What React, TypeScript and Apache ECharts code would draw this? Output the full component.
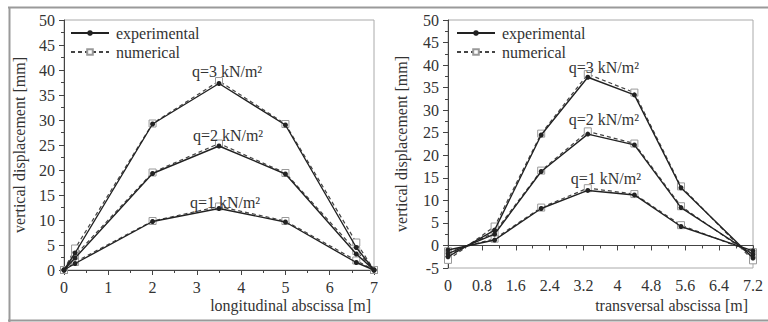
import React, { useEffect, useRef } from "react";
import * as echarts from "echarts";

// ---- data ----
const leftX = [0, 0.25, 2, 3.5, 5, 6.6, 7];
const leftExpQ1 = [0, 1.3, 9.7, 12.3, 9.6, 1.5, 0];
const leftNumQ1 = [0, 1.6, 9.8, 12.7, 9.8, 1.9, 0];
const leftExpQ2 = [0, 2.4, 19.3, 24.8, 19.2, 3.2, 0];
const leftNumQ2 = [0, 2.9, 19.5, 25.3, 19.4, 3.8, 0];
const leftExpQ3 = [0, 3.4, 29.2, 37.3, 29.0, 4.5, 0];
const leftNumQ3 = [0, 4.3, 29.3, 37.8, 29.2, 5.5, 0];

const rightX = [0, 1.1, 2.2, 3.3, 4.4, 5.5, 7.2];
const rightExpQ1 = [-1.0, 1.2, 8.2, 12.2, 11.2, 4.2, -1.2];
const rightNumQ1 = [-1.3, 1.5, 8.4, 12.7, 11.4, 4.5, -1.5];
const rightExpQ2 = [-1.8, 2.5, 16.4, 24.7, 22.3, 8.4, -2.0];
const rightNumQ2 = [-2.2, 2.9, 16.6, 25.3, 22.6, 8.7, -2.4];
const rightExpQ3 = [-2.5, 3.4, 24.5, 37.3, 33.4, 12.8, -2.8];
const rightNumQ3 = [-3.2, 4.2, 24.8, 38.0, 33.9, 13.1, -3.3];

const loadLabels = ["q=1 kN/m²", "q=2 kN/m²", "q=3 kN/m²"];
const xTitles = ["longitudinal abscissa [m]", "transversal abscissa [m]"];
const yTitle = "vertical displacement [mm]";
const leftPeakIndex = 3;
const rightPeakIndex = 3;

const FONT = "'Liberation Serif', 'Times New Roman', serif";
const TXT = "#333";

export default function App() {
  const ref = useRef<HTMLDivElement>(null);
  useEffect(() => {
    if (!ref.current) return;
    const chart = echarts.init(ref.current, undefined, { renderer: "svg" });

    const leftLabelOffsets = [[6, -6], [9, -11], [8, -12]];
    const rightLabelOffsets = [[18, -12], [16, -15], [16, -10]];

    const mk = (
      xs: number[],
      ys: number[],
      kind: "exp" | "num",
      gi: number,
      label?: string,
      peak?: number,
      offset?: number[]
    ) => {
      const data = xs.map((x, i) => {
        if (label && i === peak) {
          return {
            value: [x, ys[i]],
            label: {
              show: true,
              position: "inside",
              formatter: label,
              offset,
              fontFamily: FONT,
              fontSize: 16,
              color: TXT,
            },
          };
        }
        return [x, ys[i]];
      });
      if (kind === "exp") {
        return {
          type: "line",
          name: "experimental",
          xAxisIndex: gi,
          yAxisIndex: gi,
          data,
          symbol: "circle",
          symbolSize: 5,
          z: 3,
          lineStyle: { color: "#222", width: 1.4, type: "solid" },
          itemStyle: { color: "#222" },
        };
      }
      return {
        type: "line",
        name: "numerical",
        xAxisIndex: gi,
        yAxisIndex: gi,
        data,
        symbol: "rect",
        symbolSize: 7,
        z: 2,
        lineStyle: { color: "#444", width: 1.2, type: [4, 3] },
        itemStyle: { color: "#fff", borderColor: "#999", borderWidth: 1 },
      };
    };

    const axisLabel = { fontFamily: FONT, fontSize: 16, color: TXT, margin: 9 };
    const axisLine = { show: true, lineStyle: { color: "#444", width: 1 } };
    const axisTick = { show: true, inside: false, length: 5, lineStyle: { color: "#444" } };
    const minorTick = { show: true, splitNumber: 2, length: 3, lineStyle: { color: "#444" } };

    const xAxisBase = (max: number, interval: number) => ({
      type: "value",
      min: 0,
      max,
      interval,
      axisLine,
      axisTick,
      minorTick,
      splitLine: { show: false },
      axisLabel,
    });
    const yAxisBase = (min: number, gap: number) => ({
      type: "value",
      min,
      max: 50,
      interval: 5,
      axisLine,
      axisTick,
      minorTick,
      splitLine: { show: false },
      axisLabel,
      name: yTitle,
      nameLocation: "middle",
      nameRotate: 90,
      nameGap: gap,
      nameTextStyle: { fontFamily: FONT, fontSize: 16, color: TXT },
    });

    const legendBase = (left: number) => ({
      show: true,
      orient: "vertical",
      left,
      top: 25,
      padding: 0,
      itemWidth: 38,
      itemHeight: 7,
      itemGap: 3,
      data: ["experimental", "numerical"],
      textStyle: { fontFamily: FONT, fontSize: 16, color: TXT, padding: [0, 0, 0, 2] },
    });

    const frame = { stroke: "#9a9a9a", lineWidth: 2 };

    const gridBase = {
      show: true,
      borderColor: "#aaa",
      borderWidth: 1,
      backgroundColor: "transparent",
      containLabel: false,
      outerBoundsMode: "none",
    };

    const titleStyle = (text: string) => ({
      text,
      fill: TXT,
      font: `16px ${FONT}`,
      align: "right",
      verticalAlign: "middle",
    });

    chart.setOption({
      animation: false,
      backgroundColor: "#fff",
      textStyle: { fontFamily: FONT },
      grid: [
        { ...gridBase, left: 64, right: 394, top: 20, bottom: 52 },
        { ...gridBase, left: 448, right: 15, top: 20, bottom: 54 },
      ],
      xAxis: [
        { ...xAxisBase(7, 1), gridIndex: 0 },
        { ...xAxisBase(7.2, 0.8), gridIndex: 1 },
      ],
      yAxis: [
        { ...yAxisBase(0, 37), gridIndex: 0 },
        { ...yAxisBase(-5, 39), gridIndex: 1 },
      ],
      legend: [legendBase(70), legendBase(456)],
      graphic: [
        { type: "line", shape: { x1: 8, y1: 7.5, x2: 768, y2: 7.5 }, style: frame, silent: true },
        { type: "line", shape: { x1: 9.5, y1: 7, x2: 9.5, y2: 322 }, style: frame, silent: true },
        { type: "line", shape: { x1: 8, y1: 320.5, x2: 768, y2: 320.5 }, style: frame, silent: true },
        { type: "text", x: 371, y: 305, style: titleStyle(xTitles[0]), silent: true },
        { type: "text", x: 748, y: 305, style: titleStyle(xTitles[1]), silent: true },
      ],
      series: [
        mk(leftX, leftNumQ1, "num", 0),
        mk(leftX, leftNumQ2, "num", 0),
        mk(leftX, leftNumQ3, "num", 0),
        mk(leftX, leftExpQ1, "exp", 0, loadLabels[0], leftPeakIndex, leftLabelOffsets[0]),
        mk(leftX, leftExpQ2, "exp", 0, loadLabels[1], leftPeakIndex, leftLabelOffsets[1]),
        mk(leftX, leftExpQ3, "exp", 0, loadLabels[2], leftPeakIndex, leftLabelOffsets[2]),
        mk(rightX, rightNumQ1, "num", 1),
        mk(rightX, rightNumQ2, "num", 1),
        mk(rightX, rightNumQ3, "num", 1),
        mk(rightX, rightExpQ1, "exp", 1, loadLabels[0], rightPeakIndex, rightLabelOffsets[0]),
        mk(rightX, rightExpQ2, "exp", 1, loadLabels[1], rightPeakIndex, rightLabelOffsets[1]),
        mk(rightX, rightExpQ3, "exp", 1, loadLabels[2], rightPeakIndex, rightLabelOffsets[2]),
      ],
    });
    return () => chart.dispose();
  }, []);

  return (
    <div
      ref={ref}
      style={{ position: "absolute", left: 0, top: 0, width: 768, height: 322 }}
    />
  );
}
